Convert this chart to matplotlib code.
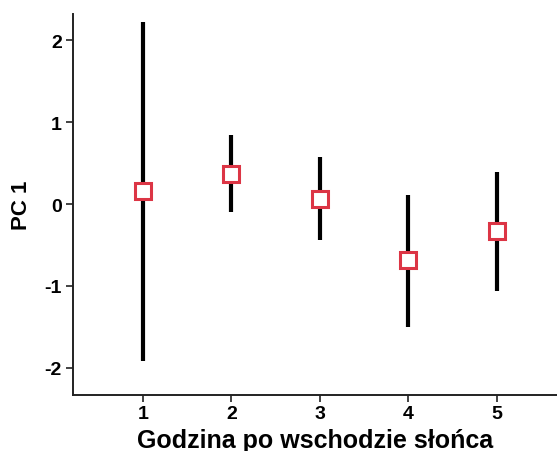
import matplotlib
matplotlib.use("Agg")
from matplotlib import pyplot as plt

plt.rcParams['font.family'] = ['Liberation Sans', 'DejaVu Sans']
plt.rcParams['font.weight'] = 'bold'
plt.rcParams['axes.unicode_minus'] = False

# PC1 score per hour after sunrise: mean with lower/upper interval
hours = [1, 2, 3, 4, 5]
pc1_mean = [0.16, 0.37, 0.06, -0.68, -0.33]
pc1_low = [-1.91, -0.10, -0.44, -1.50, -1.06]
pc1_high = [2.22, 0.84, 0.57, 0.11, 0.39]

err_low = [m - lo for m, lo in zip(pc1_mean, pc1_low)]
err_high = [hi - m for m, hi in zip(pc1_mean, pc1_high)]

fig = plt.figure(figsize=(5.57, 4.52), dpi=100)
ax = fig.add_axes([0.131, 0.124, 0.869, 0.843])

ax.errorbar(hours, pc1_mean, yerr=[err_low, err_high], fmt='none',
            ecolor='black', elinewidth=3, capsize=0, zorder=2)
ax.plot(hours, pc1_mean, linestyle='none', marker='s', markersize=11.5,
        markerfacecolor='white', markeredgecolor='#dc3545',
        markeredgewidth=2.2, zorder=3)

ax.set_xlim(0.21, 5.68)
ax.set_ylim(-2.33, 2.32)
ax.set_xticks(hours)
ax.set_yticks([-2, -1, 0, 1, 2])

for side in ['top', 'right']:
    ax.spines[side].set_visible(False)
for side in ['left', 'bottom']:
    ax.spines[side].set_linewidth(1.4)
    ax.spines[side].set_color('#222222')

ax.tick_params(axis='both', direction='out', length=5, width=1.2,
               colors='#222222', labelsize=14, labelcolor='black')
ax.tick_params(axis='x', pad=2)
ax.tick_params(axis='y', pad=3)

ax.set_ylabel('PC 1', fontsize=16, fontweight='bold')
ax.yaxis.set_label_coords(-0.085, 0.5)
ax.set_xlabel('Godzina po wschodzie słońca', fontsize=18, fontweight='bold')
ax.xaxis.label.set_verticalalignment('baseline')
ax.xaxis.set_label_coords(0.5, -0.137)

fig.savefig('out.png', dpi=100)
